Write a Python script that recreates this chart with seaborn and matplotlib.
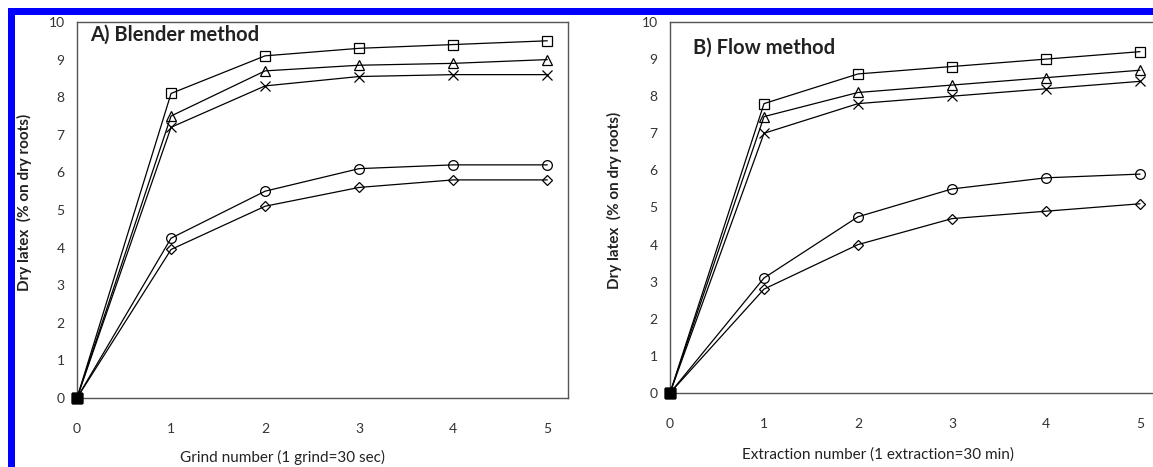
import matplotlib
matplotlib.use("Agg")
import matplotlib.pyplot as plt
from matplotlib.patches import Rectangle
import pandas as pd
import seaborn as sns

# data
x_steps = [0, 1, 2, 3, 4, 5]
series_markers = ["s", "^", "x", "o", "D"]

blender_square = [0, 8.1, 9.1, 9.3, 9.4, 9.5]
blender_triangle = [0, 7.5, 8.7, 8.85, 8.9, 9.0]
blender_cross = [0, 7.2, 8.3, 8.55, 8.6, 8.6]
blender_circle = [0, 4.25, 5.5, 6.1, 6.2, 6.2]
blender_diamond = [0, 3.95, 5.1, 5.6, 5.8, 5.8]

flow_square = [0, 7.8, 8.6, 8.8, 9.0, 9.2]
flow_triangle = [0, 7.45, 8.1, 8.3, 8.5, 8.7]
flow_cross = [0, 7.0, 7.8, 8.0, 8.2, 8.4]
flow_circle = [0, 3.1, 4.75, 5.5, 5.8, 5.9]
flow_diamond = [0, 2.8, 4.0, 4.7, 4.9, 5.1]

yticks = [0, 1, 2, 3, 4, 5, 6, 7, 8, 9, 10]

sns.set_style("white")
plt.rcParams["font.family"] = ["Lato", "DejaVu Sans"]


def long_form(series):
    rows = []
    for marker, values in zip(series_markers, series):
        for x, y in zip(x_steps, values):
            rows.append({"x": x, "y": y, "marker": marker})
    return pd.DataFrame(rows)


blender = long_form([blender_square, blender_triangle, blender_cross,
                     blender_circle, blender_diamond])
flow = long_form([flow_square, flow_triangle, flow_cross,
                  flow_circle, flow_diamond])

fig = plt.figure(figsize=(11.53, 4.67), dpi=100)
ax1 = fig.add_axes([0.0668, 0.1478, 0.4258, 0.8051])
ax2 = fig.add_axes([0.5811, 0.1585, 0.4256, 0.7944])

sizes = {"s": 7, "^": 7, "x": 7, "o": 7, "D": 5}


def draw(ax, df, title, xlabel, title_xy, xlab_xy, ylab_xy):
    for marker, sub in df.groupby("marker", sort=False):
        sns.lineplot(data=sub, x="x", y="y", ax=ax, color="black",
                     linewidth=0.9, marker=marker, markersize=sizes[marker],
                     markerfacecolor="none", markeredgecolor="black",
                     markeredgewidth=0.9, markevery=[1, 2, 3, 4, 5],
                     clip_on=False, zorder=3)
    origin = df[df["x"] == 0]
    ax.scatter(origin["x"], origin["y"], marker="s", s=60, color="black",
               clip_on=False, zorder=4)

    ax.set_xlim(0, 5.22)
    ax.set_ylim(0, 10)
    ax.set_xticks(x_steps)
    ax.set_yticks(yticks)
    ax.tick_params(axis="both", direction="out", length=4, width=0.8,
                   color="#555555", labelcolor="#333333", labelsize=10)
    ax.tick_params(axis="x", pad=14)
    ax.tick_params(axis="y", pad=5)
    for sp in ax.spines.values():
        sp.set_color("#555555")
        sp.set_linewidth(1.0)

    ax.set_xlabel(xlabel, fontsize=11, color="#222222")
    ax.xaxis.set_label_coords(*xlab_xy)
    ax.set_ylabel("Dry latex  (% on dry roots)", fontsize=11,
                  fontweight="bold", color="#222222")
    ax.yaxis.set_label_coords(*ylab_xy)
    ax.text(title_xy[0], title_xy[1], title, transform=ax.transAxes,
            fontsize=14.5, fontweight="bold", color="#222222",
            ha="left", va="center")


draw(ax1, blender, "A) Blender method", "Grind number (1 grind=30 sec)",
     (0.026, 0.965), (0.418, -0.138), (-0.092, 0.52))
draw(ax2, flow, "B) Flow method", "Extraction number (1 extraction=30 min)",
     (0.047, 0.93), (0.424, -0.146), (-0.098, 0.52))

# blue frame along the top and left edges
fig.add_artist(Rectangle((8 / 1153, 1 - 15 / 467), 1, 7 / 467,
                         transform=fig.transFigure, color="#0000ff", lw=0))
fig.add_artist(Rectangle((8 / 1153, -0.01), 7 / 1153, 1 - 8 / 467 + 0.01,
                         transform=fig.transFigure, color="#0000ff", lw=0))

fig.savefig("out.png", dpi=100)
